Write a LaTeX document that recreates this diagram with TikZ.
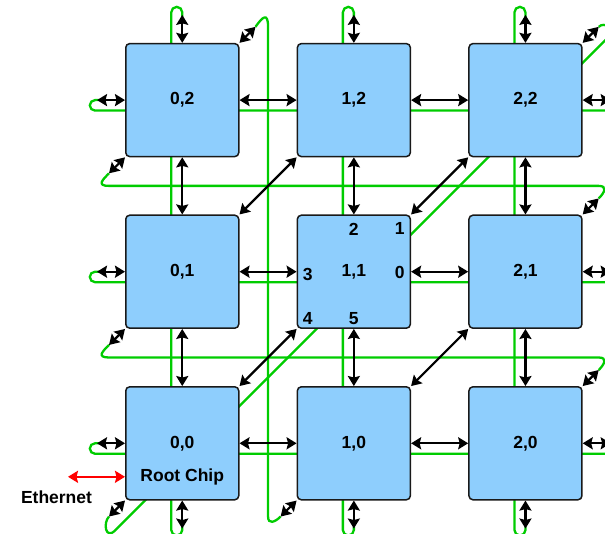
\documentclass[tikz,border=0pt]{standalone}
\usepackage{fontspec}
\setmainfont{Liberation Sans}
\usepackage{xcolor}
\usepackage{tikz}
\usetikzlibrary{calc, arrows.meta, backgrounds, positioning}

\definecolor{chipblue}{RGB}{142,206,253}
\definecolor{wiregreen}{RGB}{0,204,0}

\begin{document}
\begin{tikzpicture}[x=1pt, y=1pt, >={Stealth[length=10pt, width=12pt, inset=1.5pt]},
    chip/.style={draw=black!90, line width=1.5pt, fill=chipblue, rounded corners=4pt,
        minimum size=113pt, inner sep=0pt, font=\fontsize{17.5}{20}\selectfont\bfseries},
    lbl/.style={font=\fontsize{17.5}{20}\selectfont\bfseries, inner sep=0pt},
    link/.style={<->, line width=2.2pt},
    wire/.style={wiregreen, line width=2.3pt}]
    \useasboundingbox (0,0) rectangle (605,533);
    \clip (0,0) rectangle (605,533);

    % Chips
    \foreach \i in {0,1,2}
        \foreach \j in {0,1,2}
            \node[chip] (c\i\j) at ({182.25+171.6*\i},{89.7+171.6*\j}) {\i,\j};
    \node[lbl] (root) at ($(c00)+(0,-33.5)$) {Root Chip};

    % Ports of chip 1,1
    \node[lbl] (p0) at ($(c11)+(45.8,-0.6)$) {0};
    \node[lbl] (p1) at ($(c11)+(45.8,42.8)$) {1};
    \node[lbl] (p2) at ($(c11)+(0,42.8)$) {2};
    \node[lbl] (p3) at ($(c11)+(-46,-3)$) {3};
    \node[lbl] (p4) at ($(c11)+(-46,-46.6)$) {4};
    \node[lbl] (p5) at ($(c11)+(0,-46.6)$) {5};

    % Horizontal links
    \foreach \j in {0,1,2} {
        \draw[link] (c0\j.west) -- ++(-28,0) coordinate (w\j);
        \draw[link] (c0\j.east) -- (c1\j.west);
        \draw[link] (c1\j.east) -- (c2\j.west);
        \draw[link] (c2\j.east) -- ++(28,0) coordinate (e\j);
    }
    % Vertical links
    \foreach \i in {0,1,2} {
        \draw[link] (c\i2.north) -- ++(0,28) coordinate (n\i);
        \draw[link] (c\i0.north) -- (c\i1.south);
        \draw[link] (c\i1.north) -- (c\i2.south);
        \draw[link] (c\i0.south) -- ++(0,-28) coordinate (s\i);
    }
    % Diagonal links
    \foreach \i/\j/\k/\l in {0/0/1/1, 1/0/2/1, 0/1/1/2, 1/1/2/2}
        \draw[link] (c\i\j.north east) -- (c\k\l.south west);
    \foreach \i/\j in {0/2, 2/2, 2/1, 2/0}
        \draw[link] (c\i\j.north east) -- ++(16,16) coordinate (ne\i\j);
    \foreach \i/\j in {0/2, 0/1, 0/0, 1/0}
        \draw[link] (c\i\j.south west) -- ++(-16,-16) coordinate (sw\i\j);

    % Ethernet
    \draw[link, red] (root -| c00.west) -- ++(-57,0) coordinate (eth);
    \node[lbl] (ethlabel) at ($(eth)+(-11.5,-20)$) {Ethernet};

    % Wrap-around wires
    \begin{scope}[on background layer]
        \clip (0,0) rectangle (605,533);
        \coordinate (dv) at ($(c00.east)!0.5!(c10.west)$);
        \coordinate (dh1) at ($(c00.north)!0.5!(c01.south)$);
        \coordinate (dh2) at ($(c01.north)!0.5!(c02.south)$);
        \foreach \j in {0,1,2}
            \draw[wire, rounded corners=5.25pt] ($(w\j)+(2,0)$) -- ++(-9.2,0) -- ++(0,-10.5)
                -- ($(e\j)+(9,-10.5)$) -- ++(0,10.5) -- ++(-11,0);
        \foreach \i in {0,1,2}
            \draw[wire, rounded corners=5.5pt] ($(n\i)+(0,-2)$) -- ($(n\i)+(0,8)$)
                -- ($(n\i)+(-11,8)$) -- ($(s\i)+(-11,-7)$) -- ($(s\i)+(0,-7)$) -- ($(s\i)+(0,2)$);
        \draw[wire] (ne02) .. controls +(7,10) and +(0,15) .. (dv |- ne02)
            -- (dv |- sw10) .. controls +(0,-8) and +(-6,-6) .. (sw10);
        \draw[wire] (sw02) .. controls +(-6,-6) and +(-13,0) .. (sw02 |- dh2)
            -- (ne21 |- dh2) .. controls +(9,0) and +(6,6) .. (ne21);
        \draw[wire] (sw01) .. controls +(-6,-6) and +(-13,0) .. (sw01 |- dh1)
            -- (ne20 |- dh1) .. controls +(9,0) and +(6,6) .. (ne20);
        \draw[wire] (sw00) .. controls +(-6,-6) and +(-10,-10) .. ($(c00)+(-67,-87)$)
            -- ($(c22)+(85,65)$) .. controls +(5,5) and +(6,6) .. (ne22);
    \end{scope}
\end{tikzpicture}
\end{document}
